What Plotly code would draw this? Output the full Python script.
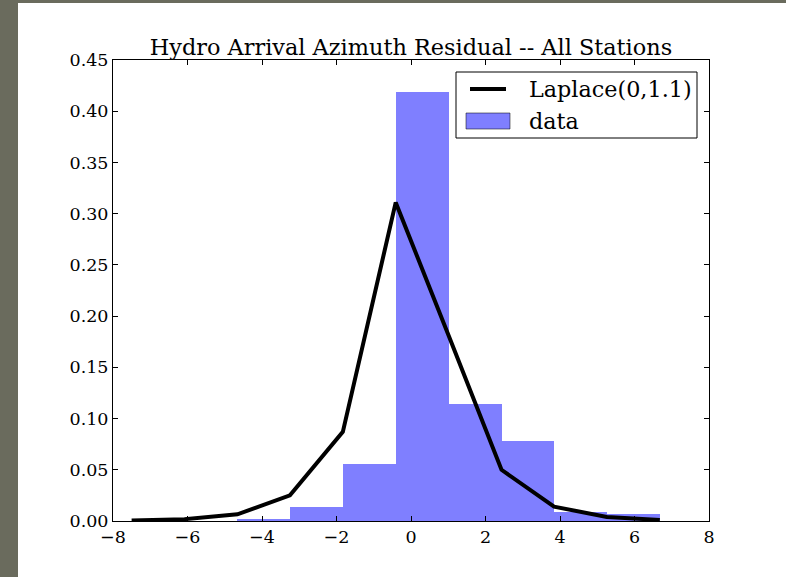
import plotly.graph_objects as go

# Bin edges of the histogram (also the x positions of the fitted line)
bin_edges = [-7.50, -6.08, -4.66, -3.25, -1.83, -0.41, 1.01, 2.43, 3.84, 5.26, 6.68]
# Normalised histogram heights ("data")
hist_heights = [0.0, 0.0, 0.0015, 0.014, 0.056, 0.419, 0.114, 0.078, 0.009, 0.0065]
# Laplace(0,1.1) curve values at the bin edges
laplace_y = [0.0005, 0.0018, 0.0065, 0.025, 0.087, 0.311, 0.181, 0.050, 0.014, 0.004, 0.001]

x_ticks = [-8, -6, -4, -2, 0, 2, 4, 6, 8]
y_ticks = [0.00, 0.05, 0.10, 0.15, 0.20, 0.25, 0.30, 0.35, 0.40, 0.45]
legend_labels = ["Laplace(0,1.1)", "data"]

centers = [(a + b) / 2 for a, b in zip(bin_edges[:-1], bin_edges[1:])]
widths = [b - a for a, b in zip(bin_edges[:-1], bin_edges[1:])]

FONT = "DejaVu Serif"
W, H = 786, 577
L, R, T, B = 113, 77, 60, 56
pw, ph = W - L - R, H - T - B
BAR_COLOR = "rgba(0,0,255,0.5)"


def px_x(p):
    return (p - L) / pw


def px_y(p):
    return (H - B - p) / ph


fig = go.Figure()
fig.add_trace(go.Scatter(
    x=bin_edges, y=laplace_y, mode="lines", name=legend_labels[0],
    line=dict(color="black", width=4), showlegend=False,
))
fig.add_trace(go.Bar(
    x=centers, y=hist_heights, width=widths, name=legend_labels[1],
    marker=dict(color=BAR_COLOR, line=dict(width=0)), showlegend=False,
))

# grey frame of the screenshot (left and top strip)
fig.add_shape(type="rect", xref="paper", yref="paper", layer="below",
              x0=px_x(18), x1=px_x(W + 5), y0=px_y(3), y1=px_y(H + 5),
              fillcolor="white", line=dict(width=0))

# legend box (matplotlib style)
fig.add_shape(type="rect", xref="paper", yref="paper",
              x0=px_x(456), x1=px_x(697), y0=px_y(138), y1=px_y(72),
              fillcolor="white", line=dict(color="black", width=1))
fig.add_shape(type="line", xref="paper", yref="paper",
              x0=px_x(470), x1=px_x(506), y0=px_y(89), y1=px_y(89),
              line=dict(color="black", width=4))
fig.add_shape(type="rect", xref="paper", yref="paper",
              x0=px_x(466), x1=px_x(510), y0=px_y(129), y1=px_y(113),
              fillcolor=BAR_COLOR, line=dict(color="rgba(0,0,0,0.5)", width=1))
for label, yc in zip(legend_labels, [89, 121]):
    fig.add_annotation(text=label, xref="paper", yref="paper",
                       x=px_x(527), y=px_y(yc), xanchor="left", yanchor="middle",
                       showarrow=False,
                       font=dict(family=FONT, size=22.3, color="black"))

axis_common = dict(
    showline=True, linecolor="black", linewidth=1, mirror="allticks",
    ticks="inside", ticklen=5, tickcolor="black", tickwidth=1,
    showgrid=False, zeroline=False,
    tickfont=dict(family=FONT, size=17.5, color="black"),
)

fig.update_layout(
    width=W, height=H,
    margin=dict(l=L, r=R, t=T, b=B),
    paper_bgcolor="#6a6b5d",
    plot_bgcolor="white",
    bargap=0,
    title=dict(text="Hydro Arrival Azimuth Residual -- All Stations",
               font=dict(family=FONT, size=22.4, color="black"),
               x=px_x(411), xref="paper", xanchor="center",
               y=1 - 47 / H, yref="container", yanchor="middle"),
    xaxis=dict(range=[-8, 8], tickvals=x_ticks,
               ticktext=[("\u2212" + str(-v)) if v < 0 else str(v) for v in x_ticks],
               **axis_common),
    yaxis=dict(range=[0, 0.45], tickvals=y_ticks,
               ticktext=[f"{v:.2f}" for v in y_ticks], **axis_common),
    showlegend=False,
)

fig.write_html("out.html")
